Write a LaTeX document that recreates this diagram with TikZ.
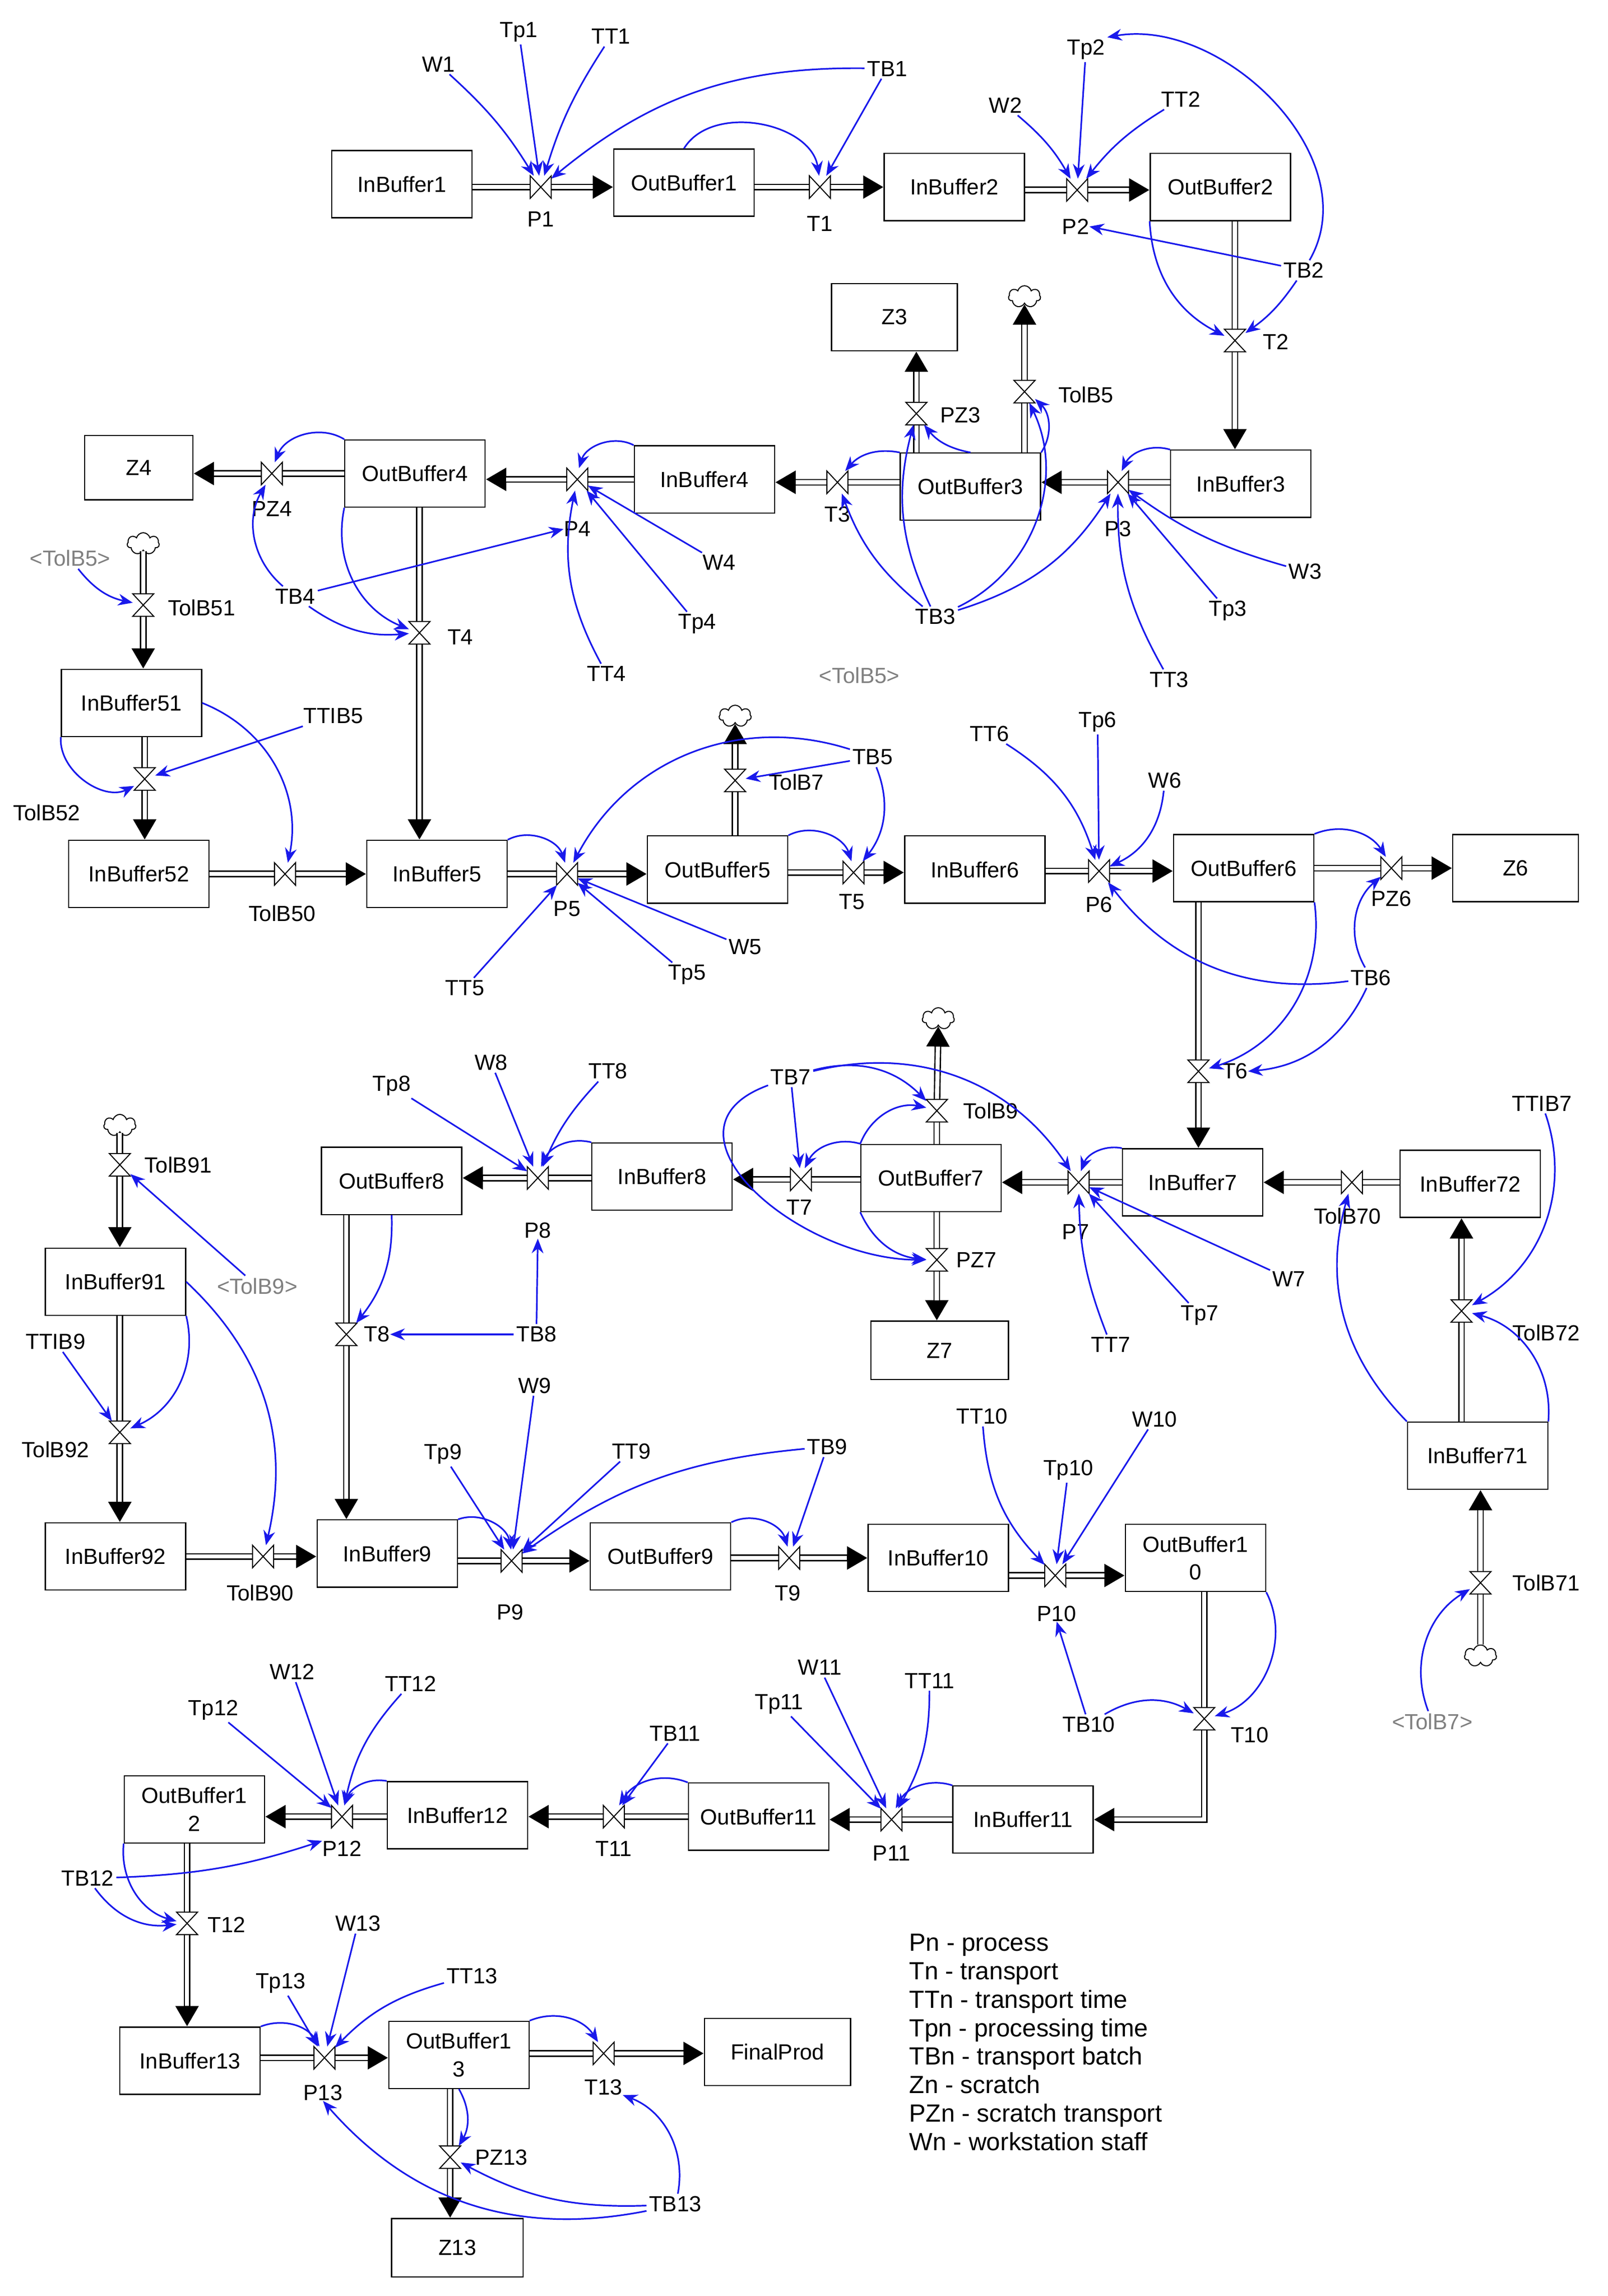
\documentclass[tikz,border=0pt]{standalone}
\usepackage{fontspec}
\setmainfont{Liberation Sans}
\usetikzlibrary{arrows.meta,shapes.symbols}
\definecolor{lnk}{RGB}{25,25,235}
\begin{document}
\begin{tikzpicture}[x=1pt,y=1pt,
 stock/.style={draw,line width=0.8pt,minimum width=96pt,minimum height=46pt,inner sep=0.5pt,font=\fontsize{15}{16}\selectfont,align=center},
 var/.style={inner sep=1.5pt,font=\fontsize{15}{16}\selectfont},
 ghost/.style={var,text=gray},
 lab/.style={inner sep=0pt,font=\fontsize{15}{16}\selectfont},
 valve/.style={inner sep=0pt,minimum width=14pt,minimum height=15pt},
 bow/.style={draw,fill=white,line width=0.7pt},
 cloudn/.style={cloud,cloud puffs=7,draw,line width=0.7pt,minimum width=22pt,minimum height=15pt,inner sep=0pt,fill=white},
 flow/.style={line width=4.6pt,postaction={draw,white,line width=2.8pt}},
 flowa/.style={line width=4.6pt,-{Triangle[length=14pt,width=15pt]},postaction={draw,white,line width=2.8pt,shorten >=14pt,-}},
 link/.style={draw=lnk,line width=1.1pt,-{Stealth[length=10pt,width=8pt]}}
]
\useasboundingbox (0,0) rectangle (1100,-1571);
\newcommand\stk[4]{\node[stock] (#1) at (#2,-#3) {#4};}
\newcommand\vv[5]{\node[valve] (#1) at (#2,-#3) {}; \node[lab] (l#1) at (#4,-#5) {#1};}
\newcommand\var[4]{\node[var] (#1) at (#2,-#3) {#4};}
% stocks
\stk{InBuffer1}{275}{126}{InBuffer1}
\stk{OutBuffer1}{468}{125}{OutBuffer1}
\stk{InBuffer2}{653}{128}{InBuffer2}
\stk{OutBuffer2}{835}{128}{OutBuffer2}
\node[stock,minimum width=86pt] (Z3) at (612,-217) {Z3};
\stk{InBuffer3}{849}{331}{InBuffer3}
\stk{OutBuffer3}{664}{333}{OutBuffer3}
\stk{InBuffer4}{482}{328}{InBuffer4}
\stk{OutBuffer4}{284}{324}{OutBuffer4}
\node[stock,minimum width=74pt,minimum height=44pt] (Z4) at (95,-320) {Z4};
\stk{InBuffer51}{90}{481}{InBuffer51}
\stk{InBuffer52}{95}{598}{InBuffer52}
\stk{InBuffer5}{299}{598}{InBuffer5}
\stk{OutBuffer5}{491}{595}{OutBuffer5}
\stk{InBuffer6}{667}{595}{InBuffer6}
\stk{OutBuffer6}{851}{594}{OutBuffer6}
\node[stock,minimum width=86pt] (Z6) at (1037,-594) {Z6};
\stk{InBuffer7}{816}{809}{InBuffer7}
\stk{InBuffer72}{1006}{810}{InBuffer72}
\stk{InBuffer71}{1011}{996}{InBuffer71}
\stk{OutBuffer7}{637}{806}{OutBuffer7}
\node[stock,minimum width=94pt,minimum height=40pt] (Z7) at (643,-924) {Z7};
\stk{InBuffer8}{453}{805}{InBuffer8}
\stk{OutBuffer8}{268}{808}{OutBuffer8}
\stk{InBuffer91}{79}{877}{InBuffer91}
\stk{InBuffer92}{79}{1065}{InBuffer92}
\stk{InBuffer9}{265}{1063}{InBuffer9}
\stk{OutBuffer9}{452}{1065}{OutBuffer9}
\stk{InBuffer10}{642}{1066}{InBuffer10}
\node[stock,font=\fontsize{15}{19}\selectfont] (OutBuffer10) at (818,-1066) {OutBuffer1\\0};
\stk{InBuffer11}{700}{1245}{InBuffer11}
\stk{OutBuffer11}{519}{1243}{OutBuffer11}
\stk{InBuffer12}{313}{1242}{InBuffer12}
\node[stock,font=\fontsize{15}{19}\selectfont] (OutBuffer12) at (133,-1238) {OutBuffer1\\2};
\stk{InBuffer13}{130}{1410}{InBuffer13}
\node[stock,font=\fontsize{15}{19}\selectfont] (OutBuffer13) at (314,-1406) {OutBuffer1\\3};
\node[stock,minimum width=100pt] (FinalProd) at (532,-1404) {FinalProd};
\node[stock,minimum width=90pt,minimum height=40pt] (Z13) at (313,-1538) {Z13};
% clouds
\node[cloudn] (c1) at (701,-203) {};
\node[cloudn] (c2) at (98,-372) {};
\node[cloudn] (c3) at (503,-490) {};
\node[cloudn] (c4) at (642,-697) {};
\node[cloudn] (c5) at (1013,-1133) {};
\node[cloudn] (c6) at (82,-770) {};
% valves
\vv{P1}{370}{128}{370}{150}
\vv{T1}{561}{128}{561}{153}
\vv{P2}{737}{130}{736}{155}
\vv{T2}{845}{233}{873}{234}
\vv{P3}{765}{330}{765}{362}
\vv{T3}{573}{330}{573}{352}
\vv{P4}{395}{328}{395}{362}
\vv{PZ4}{186}{324}{186}{348}
\vv{PZ3}{627}{283}{657}{284}
\vv{TolB5}{701}{268}{743}{270}
\vv{T4}{287}{433}{315}{436}
\vv{TolB51}{98}{414}{138}{416}
\vv{TolB52}{99}{533}{32}{556}
\vv{TolB50}{195}{598}{193}{625}
\vv{P5}{388}{598}{388}{622}
\vv{T5}{584}{597}{583}{617}
\vv{P6}{752}{596}{752}{619}
\vv{PZ6}{952}{594}{952}{615}
\vv{TolB7}{503}{534}{545}{535}
\vv{T6}{820}{733}{845}{733}
\vv{TolB70}{925}{809}{922}{832}
\vv{P7}{738}{809}{736}{843}
\vv{T7}{548}{807}{547}{826}
\vv{P8}{368}{806}{368}{842}
\vv{TolB9}{641}{760}{678}{760}
\vv{PZ7}{641}{862}{668}{862}
\vv{T8}{237}{913}{258}{913}
\vv{TolB72}{1000}{897}{1058}{912}
\vv{TolB71}{1013}{1083}{1058}{1083}
\vv{TolB91}{82}{797}{122}{797}
\vv{TolB92}{82}{980}{38}{992}
\vv{TolB90}{180}{1065}{178}{1090}
\vv{P9}{350}{1068}{349}{1103}
\vv{T9}{540}{1066}{539}{1090}
\vv{P10}{722}{1078}{723}{1104}
\vv{T10}{824}{1176}{855}{1187}
\vv{P11}{610}{1245}{610}{1268}
\vv{T11}{420}{1243}{420}{1265}
\vv{P12}{234}{1243}{234}{1265}
\vv{T12}{128}{1316}{155}{1317}
\vv{P13}{222}{1408}{221}{1432}
\vv{T13}{413}{1405}{413}{1428}
\vv{PZ13}{308}{1476}{343}{1476}
% flows
\draw[flow] (InBuffer1.east|-P1)--(P1); \draw[flowa] (P1)--(OutBuffer1.west|-P1);
\draw[flow] (OutBuffer1.east|-T1)--(T1); \draw[flowa] (T1)--(InBuffer2.west|-T1);
\draw[flow] (InBuffer2.east|-P2)--(P2); \draw[flowa] (P2)--(OutBuffer2.west|-P2);
\draw[flow] (OutBuffer2.south-|T2)--(T2); \draw[flowa] (T2)--(InBuffer3.north-|T2);
\draw[flow] (InBuffer3.west|-P3)--(P3); \draw[flowa] (P3)--(OutBuffer3.east|-P3);
\draw[flow] (OutBuffer3.west|-T3)--(T3); \draw[flowa] (T3)--(InBuffer4.east|-T3);
\draw[flow] (InBuffer4.west|-P4)--(P4); \draw[flowa] (P4)--(OutBuffer4.east|-P4);
\draw[flow] (OutBuffer4.west|-PZ4)--(PZ4); \draw[flowa] (PZ4)--(Z4.east|-PZ4);
\draw[flow] (OutBuffer3.north-|PZ3)--(PZ3); \draw[flowa] (PZ3)--(Z3.south-|PZ3);
\draw[flow] (OutBuffer3.north-|TolB5)--(TolB5); \draw[flowa] (TolB5)--(c1.south);
\draw[flow] (OutBuffer4.south-|T4)--(T4); \draw[flowa] (T4)--(InBuffer5.north-|T4);
\draw[flow] (c2.south)--(TolB51); \draw[flowa] (TolB51)--(InBuffer51.north-|TolB51);
\draw[flow] (InBuffer51.south-|TolB52)--(TolB52); \draw[flowa] (TolB52)--(InBuffer52.north-|TolB52);
\draw[flow] (InBuffer52.east|-TolB50)--(TolB50); \draw[flowa] (TolB50)--(InBuffer5.west|-TolB50);
\draw[flow] (InBuffer5.east|-P5)--(P5); \draw[flowa] (P5)--(OutBuffer5.west|-P5);
\draw[flow] (OutBuffer5.east|-T5)--(T5); \draw[flowa] (T5)--(InBuffer6.west|-T5);
\draw[flow] (InBuffer6.east|-P6)--(P6); \draw[flowa] (P6)--(OutBuffer6.west|-P6);
\draw[flow] (OutBuffer6.east|-PZ6)--(PZ6); \draw[flowa] (PZ6)--(Z6.west|-PZ6);
\draw[flow] (OutBuffer5.north-|TolB7)--(TolB7); \draw[flowa] (TolB7)--(c3.south);
\draw[flow] (OutBuffer6.south-|T6)--(T6); \draw[flowa] (T6)--(InBuffer7.north-|T6);
\draw[flow] (InBuffer72.west|-TolB70)--(TolB70); \draw[flowa] (TolB70)--(InBuffer7.east|-TolB70);
\draw[flow] (InBuffer7.west|-P7)--(P7); \draw[flowa] (P7)--(OutBuffer7.east|-P7);
\draw[flow] (OutBuffer7.west|-T7)--(T7); \draw[flowa] (T7)--(InBuffer8.east|-T7);
\draw[flow] (InBuffer8.west|-P8)--(P8); \draw[flowa] (P8)--(OutBuffer8.east|-P8);
\draw[flow] (OutBuffer7.north-|TolB9)--(TolB9); \draw[flowa] (TolB9)--(c4.south);
\draw[flow] (OutBuffer7.south-|PZ7)--(PZ7); \draw[flowa] (PZ7)--(Z7.north-|PZ7);
\draw[flow] (InBuffer71.north-|TolB72)--(TolB72); \draw[flowa] (TolB72)--(InBuffer72.south-|TolB72);
\draw[flow] (c5.north)--(TolB71); \draw[flowa] (TolB71)--(InBuffer71.south-|TolB71);
\draw[flow] (OutBuffer8.south-|T8)--(T8); \draw[flowa] (T8)--(InBuffer9.north-|T8);
\draw[flow] (c6.south)--(TolB91); \draw[flowa] (TolB91)--(InBuffer91.north-|TolB91);
\draw[flow] (InBuffer91.south-|TolB92)--(TolB92); \draw[flowa] (TolB92)--(InBuffer92.north-|TolB92);
\draw[flow] (InBuffer92.east|-TolB90)--(TolB90); \draw[flowa] (TolB90)--(InBuffer9.west|-TolB90);
\draw[flow] (InBuffer9.east|-P9)--(P9); \draw[flowa] (P9)--(OutBuffer9.west|-P9);
\draw[flow] (OutBuffer9.east|-T9)--(T9); \draw[flowa] (T9)--(InBuffer10.west|-T9);
\draw[flow] (InBuffer10.east|-P10)--(P10); \draw[flowa] (P10)--(OutBuffer10.west|-P10);
\draw[flow] (OutBuffer10.south-|T10)--(T10); \draw[flowa] (T10)|-(InBuffer11.east);
\draw[flow] (InBuffer11.west|-P11)--(P11); \draw[flowa] (P11)--(OutBuffer11.east|-P11);
\draw[flow] (OutBuffer11.west|-T11)--(T11); \draw[flowa] (T11)--(InBuffer12.east|-T11);
\draw[flow] (InBuffer12.west|-P12)--(P12); \draw[flowa] (P12)--(OutBuffer12.east|-P12);
\draw[flow] (OutBuffer12.south-|T12)--(T12); \draw[flowa] (T12)--(InBuffer13.north-|T12);
\draw[flow] (InBuffer13.east|-P13)--(P13); \draw[flowa] (P13)--(OutBuffer13.west|-P13);
\draw[flow] (OutBuffer13.east|-T13)--(T13); \draw[flowa] (T13)--(FinalProd.west|-T13);
\draw[flow] (OutBuffer13.south-|PZ13)--(PZ13); \draw[flowa] (PZ13)--(Z13.north-|PZ13);
% bowties
\foreach \v in {P1,T1,P2,P3,T3,P4,PZ4,TolB50,P5,T5,P6,PZ6,TolB70,P7,T7,P8,TolB90,P9,T9,P10,P11,T11,P12,P13,T13}
  \draw[bow] (\v.north west)--(\v.south west)--(\v.north east)--(\v.south east)--cycle;
\foreach \v in {T2,PZ3,TolB5,T4,TolB51,TolB52,TolB7,T6,TolB9,PZ7,T8,TolB72,TolB71,TolB91,TolB92,T10,T12,PZ13}
  \draw[bow] (\v.north west)--(\v.north east)--(\v.south west)--(\v.south east)--cycle;
% variables
\var{W1}{300}{44}{W1} \var{Tp1}{355}{22}{Tp1} \var{TT1}{418}{25}{TT1} \var{TB1}{607}{47}{TB1}
\var{W2}{688}{72}{W2} \var{Tp2}{743}{34}{Tp2} \var{TT2}{808}{68}{TT2} \var{TB2}{892}{185}{TB2}
\var{W3}{893}{391}{W3} \var{Tp3}{840}{418}{Tp3} \var{TT3}{800}{465}{TT3} \var{TB3}{640}{422}{TB3}
\var{W4}{492}{385}{W4} \var{Tp4}{477}{427}{Tp4} \var{TT4}{415}{461}{TT4} \var{TB4}{202}{408}{TB4}
\node[ghost] (g1) at (48,-382) {<TolB5>};
\node[ghost] (g2) at (588,-462) {<TolB5>};
\var{TTIB5}{228}{490}{TTIB5} \var{TB5}{597}{518}{TB5}
\var{TT5}{318}{676}{TT5} \var{W5}{510}{648}{W5} \var{Tp5}{470}{667}{Tp5}
\var{TT6}{677}{502}{TT6} \var{Tp6}{751}{494}{Tp6} \var{W6}{797}{534}{W6} \var{TB6}{938}{669}{TB6}
\var{TB7}{541}{737}{TB7} \var{W7}{882}{875}{W7} \var{Tp7}{821}{900}{Tp7} \var{TT7}{760}{920}{TT7}
\var{Tp8}{268}{743}{Tp8} \var{W8}{336}{727}{W8} \var{TT8}{416}{733}{TT8} \var{TB8}{367}{913}{TB8}
\var{TTIB7}{1055}{755}{TTIB7}
\node[ghost] (g3) at (980,-1178) {<TolB7>};
\node[ghost] (g4) at (176,-880) {<TolB9>};
\var{TTIB9}{38}{918}{TTIB9}
\var{Tp9}{303}{995}{Tp9} \var{W9}{366}{948}{W9} \var{TT9}{432}{993}{TT9} \var{TB9}{566}{990}{TB9}
\var{TT10}{672}{969}{TT10} \var{Tp10}{731}{1006}{Tp10} \var{W10}{790}{971}{W10} \var{TB10}{745}{1180}{TB10}
\var{TB11}{462}{1186}{TB11} \var{Tp11}{533}{1166}{Tp11} \var{W11}{561}{1141}{W11} \var{TT11}{636}{1150}{TT11}
\var{Tp12}{146}{1170}{Tp12} \var{W12}{200}{1144}{W12} \var{TT12}{281}{1152}{TT12} \var{TB12}{60}{1285}{TB12}
\var{Tp13}{192}{1357}{Tp13} \var{W13}{245}{1316}{W13} \var{TT13}{323}{1352}{TT13} \var{TB13}{462}{1508}{TB13}
% links
\draw[link] (W1) to[bend left=8] (P1);
\draw[link] (Tp1) to (P1);
\draw[link] (TT1) to[bend right=8] (P1);
\draw[link] (TB1) to[bend right=20] (P1);
\draw[link] (OutBuffer1.north) to[bend left=70] (T1);
\draw[link] (TB1) to (T1);
\draw[link] (W2) to[bend left=10] (P2);
\draw[link] (Tp2) to (P2);
\draw[link] (TT2) to[bend right=10] (P2);
\draw[link] (TB2) to[out=60,in=10] (Tp2.north east);
\draw[link] (TB2) to (lP2.east);
\draw[link] (OutBuffer2.south west) to[bend right=30] (T2);
\draw[link] (TB2) to[bend left=10] (T2);
\draw[link] (InBuffer3.north west) to[bend right=40] (P3);
\draw[link] (W3) to[bend left=10] (P3);
\draw[link] (Tp3) to (P3);
\draw[link] (TT3) to[bend left=15] (P3);
\draw[link] (TB3) to[bend right=20] (P3);
\draw[link] (TB3) to[bend left=15] (T3);
\draw[link] (TB3) to[bend left=20] (PZ3);
\draw[link] (TB3) to[bend right=45] (TolB5);
\draw[link] (OutBuffer3.north west) to[bend right=30] (T3);
\draw[link] (OutBuffer3.north) to[bend left=20] (PZ3);
\draw[link] (OutBuffer3.north east) to[bend right=40] (TolB5);
\draw[link] (InBuffer4.north west) to[bend right=50] (P4);
\draw[link] (W4) to (P4);
\draw[link] (Tp4) to (P4);
\draw[link] (TT4) to[bend left=20] (P4);
\draw[link] (TB4) to (lP4.west);
\draw[link] (TB4) to[bend right=20] (T4);
\draw[link] (TB4) to[bend left=40] (PZ4);
\draw[link] (OutBuffer4.north west) to[bend right=50] (PZ4);
\draw[link] (OutBuffer4.south west) to[bend right=40] (T4);
\draw[link] (g1) to[bend right=20] (TolB51);
\draw[link] (TTIB5) to (TolB52);
\draw[link] (InBuffer51.south west) to[bend right=60] (TolB52);
\draw[link] (InBuffer51.east) to[bend left=40] (TolB50);
\draw[link] (InBuffer5.north east) to[bend left=50] (P5);
\draw[link] (TB5) to[bend right=40] (P5);
\draw[link] (TB5) to (TolB7);
\draw[link] (TB5) to[bend left=30] (T5);
\draw[link] (OutBuffer5.north east) to[bend left=50] (T5);
\draw[link] (TT5) to (P5);
\draw[link] (W5) to (P5);
\draw[link] (Tp5) to (P5);
\draw[link] (TT6) to[bend left=20] (P6);
\draw[link] (Tp6) to (P6);
\draw[link] (W6) to[bend left=30] (P6);
\draw[link] (OutBuffer6.north east) to[bend left=40] (PZ6);
\draw[link] (TB6) to[bend left=40] (PZ6);
\draw[link] (TB6) to[bend left=30] (P6);
\draw[link] (TB6) to[bend left=30] (lT6.east);
\draw[link] (OutBuffer6.south east) to[bend left=40] (T6);
\draw[link] (InBuffer7.north west) to[bend right=40] (P7);
\draw[link] (W7) to (P7);
\draw[link] (Tp7) to (P7);
\draw[link] (TT7) to[bend left=10] (P7);
\draw[link] (TB7) to (T7);
\draw[link] (TB7) to[bend left=30] (TolB9);
\draw[link] (TB7) to[bend left=35] (P7);
\draw[link] (TB7) to[out=200,in=180,looseness=1.4] (PZ7);
\draw[link] (OutBuffer7.north west) to[bend right=40] (T7);
\draw[link] (OutBuffer7.north west) to[bend left=40] (TolB9);
\draw[link] (OutBuffer7.south west) to[bend right=30] (PZ7);
\draw[link] (InBuffer8.north west) to[bend right=40] (P8);
\draw[link] (Tp8) to (P8);
\draw[link] (W8) to (P8);
\draw[link] (TT8) to[bend right=10] (P8);
\draw[link] (TB8) to (lP8.south);
\draw[link] (TB8) to (lT8.east);
\draw[link] (OutBuffer8.south) to[bend left=20] (T8);
\draw[link] (TTIB7) to[bend left=40] (TolB72);
\draw[link] (InBuffer71.north east) to[bend right=40] (TolB72);
\draw[link] (InBuffer71.north west) to[bend left=30] (TolB70);
\draw[link] (g3) to[bend left=40] (TolB71);
\draw[link] (g4) to (TolB91);
\draw[link] (TTIB9) to (TolB92);
\draw[link] (InBuffer91.south east) to[bend left=40] (TolB92);
\draw[link] (InBuffer91.east) to[bend left=30] (TolB90);
\draw[link] (InBuffer9.north east) to[bend left=50] (P9);
\draw[link] (Tp9) to (P9);
\draw[link] (W9) to (P9);
\draw[link] (TT9) to (P9);
\draw[link] (TB9) to[bend right=15] (P9);
\draw[link] (OutBuffer9.north east) to[bend left=50] (T9);
\draw[link] (TB9) to (T9);
\draw[link] (TT10) to[bend right=20] (P10);
\draw[link] (Tp10) to (P10);
\draw[link] (W10) to (P10);
\draw[link] (TB10) to (lP10.south);
\draw[link] (TB10) to[bend left=30] (T10);
\draw[link] (OutBuffer10.south east) to[bend left=50] (T10);
\draw[link] (InBuffer11.north west) to[bend right=40] (P11);
\draw[link] (Tp11) to (P11);
\draw[link] (W11) to (P11);
\draw[link] (TT11) to[bend left=15] (P11);
\draw[link] (OutBuffer11.north west) to[bend right=40] (T11);
\draw[link] (TB11) to (T11);
\draw[link] (Tp12) to (P12);
\draw[link] (W12) to (P12);
\draw[link] (TT12) to[bend right=15] (P12);
\draw[link] (InBuffer12.north west) to[bend right=40] (P12);
\draw[link] (TB12) to[bend right=8] (lP12.north west);
\draw[link] (TB12) to[bend right=30] (T12);
\draw[link] (OutBuffer12.south west) to[bend right=40] (T12);
\draw[link] (Tp13) to (P13);
\draw[link] (W13) to (P13);
\draw[link] (TT13) to[bend right=15] (P13);
\draw[link] (InBuffer13.north east) to[bend left=40] (P13);
\draw[link] (OutBuffer13.north east) to[bend left=40] (T13);
\draw[link] (TB13) to[bend right=40] (lT13.south east);
\draw[link] (TB13) to[bend left=15] (PZ13);
\draw[link] (TB13) to[bend left=30] (lP13.south);
\draw[link] (OutBuffer13.south) to[bend left=30] (PZ13);
% legend
\node[anchor=north west,align=left,inner sep=0pt,font=\fontsize{17}{19.5}\selectfont] (legend) at (622,-1323)
 {Pn - process\\Tn - transport\\TTn - transport time\\Tpn - processing time\\TBn - transport batch\\Zn - scratch\\PZn - scratch transport\\Wn - workstation staff};
\end{tikzpicture}
\end{document}
